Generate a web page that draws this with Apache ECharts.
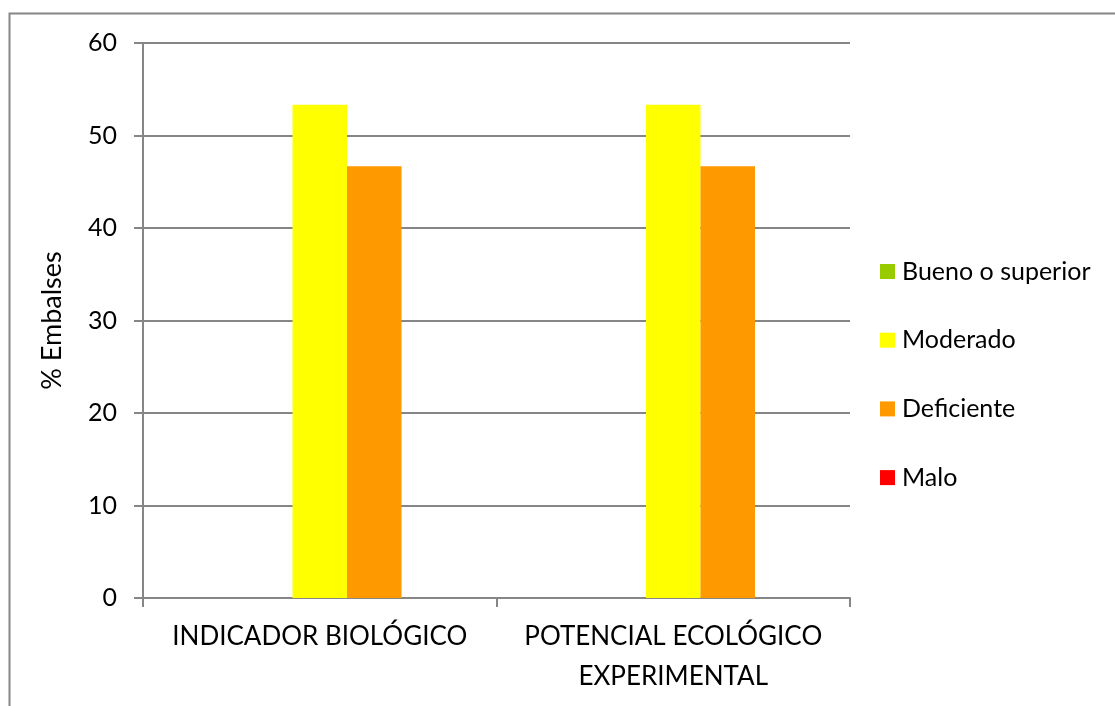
<!DOCTYPE html>
<html>
<head>
<meta charset="utf-8">
<script src="https://cdn.jsdelivr.net/npm/echarts@6/dist/echarts.min.js"></script>
<style>
  html, body { margin: 0; padding: 0; background: #fff; }
  #chart { width: 1115px; height: 706px; }
</style>
</head>
<body>
<div id="chart"></div>
<script>
// categorias y valores (% de embalses)
var categorias = ['INDICADOR BIOLÓGICO', 'POTENCIAL ECOLÓGICO\nEXPERIMENTAL'];
var bueno = [0, 0];
var moderado = [53.33, 53.33];
var deficiente = [46.67, 46.67];
var malo = [0, 0];
var yTicks = [0, 10, 20, 30, 40, 50, 60];

var chart = echarts.init(document.getElementById('chart'));
var fuente = 'Lato';
var gris = '#868686';

var option = {
  animation: false,
  textStyle: { fontFamily: fuente },
  graphic: [{
    type: 'rect',
    shape: { x: 9.5, y: 13.5, width: 1300, height: 900 },
    style: { fill: 'none', stroke: gris, lineWidth: 2 },
    silent: true
  }],
  legend: {
    orient: 'vertical',
    left: 875,
    top: 254,
    itemWidth: 15,
    itemHeight: 15,
    itemGap: 43.7,
    icon: 'rect',
    textStyle: { fontSize: 25, color: '#000', fontFamily: fuente, padding: [0, 0, 0, 2] },
    data: ['Bueno o superior', 'Moderado', 'Deficiente', 'Malo']
  },
  grid: { left: 143, right: 265, top: 43, bottom: 108 },
  xAxis: [{
    type: 'category',
    data: categorias,
    axisLine: { lineStyle: { color: gris, width: 2 } },
    axisTick: { show: true, length: 9, lineStyle: { color: gris, width: 2 } },
    axisLabel: { color: '#000', fontSize: 26, margin: 19, lineHeight: 40, fontFamily: fuente, interval: 0 }
  }, {
    type: 'category',
    data: categorias,
    show: false
  }],
  yAxis: {
    type: 'value',
    min: yTicks[0],
    max: yTicks[yTicks.length - 1],
    interval: 10,
    name: '% Embalses',
    nameLocation: 'middle',
    nameGap: 77,
    nameRotate: 90,
    nameTextStyle: { fontSize: 27, color: '#000', fontFamily: fuente },
    axisLine: { show: true, lineStyle: { color: gris, width: 2 } },
    axisTick: { show: true, length: 9, lineStyle: { color: gris, width: 2 } },
    axisLabel: { color: '#000', fontSize: 25, margin: 26, fontFamily: fuente },
    splitLine: { lineStyle: { color: gris, width: 2 } }
  },
  series: [{
    name: 'Bueno o superior', type: 'bar', data: bueno,
    barWidth: 54.5, barGap: '0%',
    itemStyle: { color: '#99CC00' }
  }, {
    name: 'Moderado', type: 'bar', data: moderado,
    barWidth: 54.5, barGap: '0%',
    itemStyle: { color: '#FFFF00' }
  }, {
    name: 'Deficiente', type: 'bar', data: deficiente,
    barWidth: 54.5, barGap: '0%',
    itemStyle: { color: '#FF9900' }
  }, {
    name: 'Malo', type: 'bar', data: malo, xAxisIndex: 1,
    barWidth: 54.5,
    itemStyle: { color: '#FF0000' }
  }]
};

chart.setOption(option);
</script>
</body>
</html>
